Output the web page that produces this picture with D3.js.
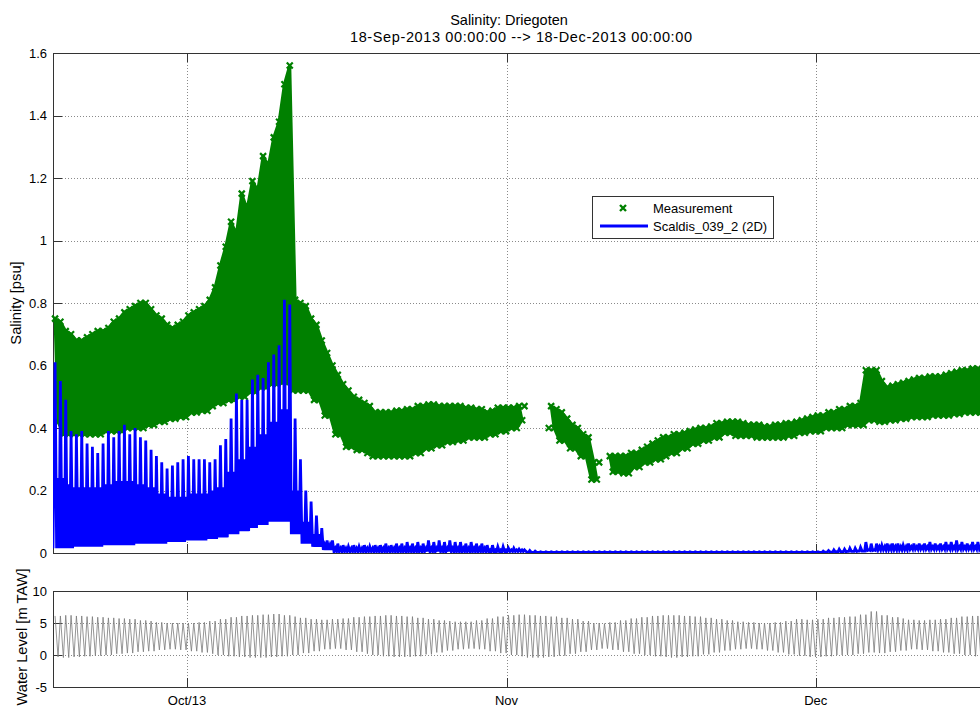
<!DOCTYPE html>
<html>
<head>
<meta charset="utf-8">
<script src="https://cdnjs.cloudflare.com/ajax/libs/d3/7.8.5/d3.min.js"></script>
<style>
body { margin: 0; background: #fff; overflow: hidden; }
text { font-family: "Liberation Sans", Arial, sans-serif; fill: #000; }
</style>
</head>
<body>
<script>
var width = 980, height = 711;

var startDate = new Date(Date.UTC(2013, 8, 18));
var endDate = new Date(Date.UTC(2013, 11, 18));

var monthTicks = [new Date(Date.UTC(2013, 9, 1)), new Date(Date.UTC(2013, 10, 1)), new Date(Date.UTC(2013, 11, 1))];
var monthLabels = ["Oct/13", "Nov", "Dec"];
var salinityTicks = [0, 0.2, 0.4, 0.6, 0.8, 1, 1.2, 1.4, 1.6];
var levelTicks = [-5, 0, 5, 10];

// measured salinity, top of the band at each high water (null = no data)
var measHigh = [0.75,0.74,0.71,0.70,0.68,0.68,0.69,0.70,0.71,0.71,
  0.72,0.74,0.75,0.77,0.78,0.79,0.80,0.80,0.78,0.76,
  0.75,0.73,0.72,0.73,0.74,0.76,0.77,0.78,0.79,0.81,
  0.85,0.92,0.98,1.06,1.02,1.15,1.10,1.19,1.16,1.27,
  1.24,1.33,1.38,1.50,1.56,0.81,0.80,0.79,0.75,0.73,
  0.68,0.64,0.60,0.57,0.54,0.52,0.50,0.49,0.48,0.47,
  0.45,0.45,0.45,0.45,0.455,0.455,0.46,0.46,0.47,0.47,
  0.475,0.475,0.47,0.47,0.47,0.47,0.47,0.465,0.465,0.46,
  0.46,0.45,0.455,0.465,0.465,0.465,0.465,0.47,0.47,null,
  null,null,null,0.47,0.46,0.45,0.43,0.41,0.40,0.38,
  0.37,0.29,0.29,null,0.31,0.31,0.31,0.31,0.32,0.32,
  0.33,0.34,0.35,0.36,0.37,0.37,0.38,0.38,0.385,0.39,
  0.395,0.40,0.40,0.405,0.415,0.415,0.42,0.42,0.42,0.415,
  0.41,0.41,0.41,0.405,0.405,0.41,0.41,0.415,0.415,0.42,
  0.425,0.43,0.435,0.44,0.44,0.45,0.45,0.46,0.46,0.47,
  0.47,0.48,0.585,0.585,0.585,0.55,0.53,0.535,0.54,0.545,
  0.55,0.555,0.56,0.56,0.565,0.565,0.565,0.57,0.575,0.58,
  0.585,0.585,0.59,0.59,0.59,0.59];
// measured salinity, bottom of the band, one value per day from 18-Sep
var measLower = [0.42,0.38,0.38,0.38,0.38,0.39,0.39,0.40,0.40,0.41,
  0.42,0.43,0.435,0.45,0.455,0.47,0.48,0.49,0.50,0.515,
  0.53,0.54,0.545,0.52,0.52,0.49,0.44,0.38,0.34,0.33,
  0.32,0.31,0.31,0.31,0.31,0.32,0.335,0.345,0.355,0.36,
  0.37,0.37,0.38,0.39,0.40,0.425,null,null,0.40,0.36,
  0.335,0.31,0.235,null,0.26,0.255,0.275,0.29,0.30,0.31,
  0.32,0.335,0.35,0.36,0.37,0.385,0.375,0.375,0.37,0.37,
  0.37,0.375,0.385,0.39,0.39,0.40,0.40,0.41,0.41,0.425,
  0.42,0.425,0.43,0.435,0.435,0.44,0.44,0.445,0.45,0.45,
  0.45];

// model salinity peak per tide
var modelPeak = [0.61,0.55,0.49,0.39,0.38,0.39,0.35,0.34,0.32,0.35,
  0.39,0.37,0.39,0.41,0.38,0.40,0.37,0.36,0.33,0.31,
  0.29,0.27,0.28,0.29,0.30,0.31,0.30,0.30,0.30,0.29,
  0.30,0.345,0.365,0.43,0.51,0.49,0.49,0.555,0.57,0.56,
  0.61,0.635,0.665,0.81,0.795,0.43,0.30,0.20,0.165,0.12,
  0.08,0.04,0.04,0.03,0.025,0.02,0.025,0.02,0.025,0.02,
  0.025,0.025,0.03,0.025,0.03,0.03,0.035,0.03,0.035,0.03,
  0.04,0.035,0.04,0.035,0.04,0.035,0.035,0.03,0.035,0.03,
  0.03,0.025,0.025,0.02,0.02,0.015,0.015,0.012,0.01,0.008,
  0.006,0.004,0.004,0.004,0.004,0.004,0.004,0.004,0.004,0.004,
  0.004,0.004,0.004,0.004,0.004,0.004,0.004,0.004,0.004,0.004,
  0.004,0.004,0.004,0.004,0.004,0.004,0.004,0.004,0.004,0.004,
  0.004,0.004,0.004,0.004,0.004,0.004,0.004,0.004,0.004,0.004,
  0.004,0.004,0.004,0.004,0.004,0.004,0.004,0.004,0.004,0.004,
  0.004,0.004,0.004,0.004,0.006,0.008,0.01,0.012,0.012,0.015,
  0.015,0.018,0.035,0.03,0.03,0.025,0.03,0.03,0.03,0.025,
  0.03,0.03,0.03,0.03,0.035,0.03,0.03,0.035,0.035,0.04,
  0.035,0.03,0.035,0.035,0.03,0.035];
// model salinity trough, one value per day
var modelTrough = [0.015,0.015,0.02,0.02,0.02,0.025,0.025,0.025,0.03,0.03,
  0.03,0.035,0.035,0.04,0.04,0.045,0.05,0.06,0.07,0.08,
  0.09,0.10,0.10,0.06,0.03,0.02,0.01,0.005,0.005,0.005,
  0.005,0.005,0.005,0.005,0.005,0.005,0.005,0.005,0.005,0.005,
  0.005,0.005,0.005,0.005,0.005,0.005,0.002,0.002,0.002,0.002,
  0.002,0.002,0.002,0.002,0.002,0.002,0.002,0.002,0.002,0.002,
  0.002,0.002,0.002,0.002,0.002,0.002,0.002,0.002,0.002,0.002,
  0.002,0.002,0.002,0.002,0.002,0.003,0.004,0.005,0.006,0.008,
  0.01,0.01,0.01,0.012,0.012,0.012,0.012,0.012,0.012,0.012,
  0.012];
// model salinity secondary bump within each tide, one value per day
var modelRebound = [0.24,0.22,0.21,0.21,0.21,0.22,0.23,0.23,0.22,0.21,
  0.19,0.18,0.18,0.19,0.19,0.2,0.21,0.26,0.3,0.34,
  0.38,0.42,0.46,0.2,0.1,0.06,0.025,0.015,0.015,0.015,
  0.015,0.015,0.015,0.015,0.015,0.015,0.015,0.015,0.015,0.015,
  0.015,0.015,0.01,0.01,0.01,0.01,0.002,0.002,0.002,0.002,
  0.002,0.002,0.002,0.002,0.002,0.002,0.002,0.002,0.002,0.002,
  0.002,0.002,0.002,0.002,0.002,0.002,0.002,0.002,0.002,0.002,
  0.002,0.002,0.002,0.002,0.002,0.003,0.004,0.005,0.006,0.01,
  0.02,0.02,0.02,0.02,0.02,0.02,0.02,0.02,0.02,0.02,
  0.02];

// water level high / low water, one value per day
var levelHigh = [6.1,6.2,6.1,6.0,5.9,5.8,5.7,5.6,5.4,5.3,
  5.1,5.0,5.0,5.0,5.1,5.3,5.6,5.9,6.1,6.2,
  6.3,6.4,6.2,6.0,5.8,5.6,5.5,5.6,5.7,5.9,
  6.0,6.1,6.2,6.1,6.0,5.8,5.6,5.4,5.3,5.2,
  5.2,5.4,5.7,6.0,6.2,6.3,6.2,6.1,6.0,5.8,
  5.6,5.3,5.0,4.9,5.1,5.4,5.7,5.9,6.1,6.2,
  6.2,6.1,6.0,5.8,5.6,5.4,5.2,5.1,5.0,5.0,
  5.1,5.3,5.6,5.5,5.6,5.8,5.9,6.0,6.3,6.8,
  6.2,5.9,5.7,5.5,5.4,5.5,5.6,5.8,6.0,6.1,
  6.1];
var levelLow = [-0.3,-0.4,-0.3,-0.2,-0.1,0.0,0.2,0.3,0.5,0.6,
  0.8,0.9,0.8,0.6,0.4,0.2,0.0,-0.2,-0.3,-0.4,
  -0.4,-0.3,-0.2,0.0,0.3,0.6,0.9,1.0,0.8,0.5,
  0.2,0.0,-0.2,-0.3,-0.3,-0.2,0.1,0.4,0.7,0.9,
  1.0,0.9,0.6,0.3,0.0,-0.2,-0.4,-0.4,-0.3,-0.1,
  0.2,0.5,0.8,1.0,0.8,0.5,0.2,0.0,-0.2,-0.3,
  -0.4,-0.3,-0.2,0.1,0.4,0.7,0.9,1.0,0.9,0.7,
  0.4,0.1,-0.1,-0.3,-0.3,-0.2,0.0,0.0,0.2,0.4,
  0.3,0.5,0.7,0.9,0.8,0.6,0.4,0.2,0.0,-0.2,
  -0.3];

var tidePeriod = 0.5175;  // days
var firstHW = 0.2;        // days after start
var ebbTime = 0.29;       // HW -> LW, days

var main = {left: 53, right: 991, top: 53, bottom: 553};
var low = {top: 591, bottom: 687};
var tickLen = 9;

var svg = d3.select("body").append("svg")
    .attr("width", width)
    .attr("height", height);

function dayDate(d) { return new Date(startDate.getTime() + d * 864e5); }

var x = d3.scaleUtc().domain([startDate, endDate]).range([main.left, main.right]);
var yS = d3.scaleLinear().domain([0, 1.6]).range([main.bottom, main.top]);
var yW = d3.scaleLinear().domain([-5, 10]).range([low.bottom, low.top]);

var tides = d3.range(modelPeak.length).map(function(i) { return firstHW + i * tidePeriod; });

svg.append("defs").selectAll("clipPath")
    .data([["clipMain", main.top, main.bottom], ["clipLow", low.top, low.bottom]])
  .enter().append("clipPath").attr("id", function(d) { return d[0]; })
  .append("rect")
    .attr("x", main.left).attr("y", function(d) { return d[1]; })
    .attr("width", main.right - main.left).attr("height", function(d) { return d[2] - d[1]; });

function px(v) { return Math.round(v) + 0.5; }

function drawFrame(top, bottom, y, ticks, fmt) {
  var g = svg.append("g");
  // grid
  g.selectAll(".gy").data(ticks.filter(function(t) { return y(t) > top + 1 && y(t) < bottom - 1; }))
    .enter().append("line")
      .attr("x1", main.left).attr("x2", main.right)
      .attr("y1", function(d) { return px(y(d)); }).attr("y2", function(d) { return px(y(d)); })
      .attr("stroke", "#8a8a8a").attr("stroke-dasharray", "1,2");
  g.selectAll(".gx").data(monthTicks).enter().append("line")
      .attr("x1", function(d) { return px(x(d)); }).attr("x2", function(d) { return px(x(d)); })
      .attr("y1", top).attr("y2", bottom)
      .attr("stroke", "#8a8a8a").attr("stroke-dasharray", "1,2");
  // box
  g.append("rect")
      .attr("x", px(main.left)).attr("y", px(top))
      .attr("width", main.right - main.left).attr("height", bottom - top)
      .attr("fill", "none").attr("stroke", "#333");
  // ticks
  g.selectAll(".ty").data(ticks).enter().append("line")
      .attr("x1", main.left).attr("x2", main.left + tickLen)
      .attr("y1", function(d) { return px(y(d)); }).attr("y2", function(d) { return px(y(d)); })
      .attr("stroke", "#333");
  g.selectAll(".tb").data(monthTicks).enter().append("line")
      .attr("x1", function(d) { return px(x(d)); }).attr("x2", function(d) { return px(x(d)); })
      .attr("y1", bottom).attr("y2", bottom - tickLen)
      .attr("stroke", "#333");
  g.selectAll(".tt").data(monthTicks).enter().append("line")
      .attr("x1", function(d) { return px(x(d)); }).attr("x2", function(d) { return px(x(d)); })
      .attr("y1", top).attr("y2", top + tickLen)
      .attr("stroke", "#333");
  g.selectAll(".ly").data(ticks).enter().append("text")
      .attr("x", main.left - 6).attr("y", function(d) { return y(d); })
      .attr("dy", "0.35em").attr("text-anchor", "end")
      .style("font-size", "13px")
      .text(fmt);
}

drawFrame(main.top, main.bottom, yS, salinityTicks, function(d) { return d3.format("~g")(d); });
drawFrame(low.top, low.bottom, yW, levelTicks, function(d) { return d; });

// month labels under the water level panel
svg.selectAll(".mlab").data(monthTicks).enter().append("text")
    .attr("x", function(d) { return x(d); })
    .attr("y", 705)
    .attr("text-anchor", "middle")
    .style("font-size", "13px")
    .text(function(d, i) { return monthLabels[i]; });

// measurement band
var green = "#008000";
var meas = tides.map(function(t, i) {
  var tl = t + ebbTime;
  return {t: t, tl: tl, hi: measHigh[i], lo: tl < 91 ? measLower[Math.floor(tl)] : null};
});

var band = d3.area()
    .defined(function(d) { return d.hi != null && d.lo != null; })
    .x1(function(d) { return x(dayDate(d.t)); })
    .y1(function(d) { return yS(d.hi); })
    .x0(function(d) { return x(dayDate(d.tl)); })
    .y0(function(d) { return yS(d.lo); });

var gm = svg.append("g");
gm.append("path").datum(meas)
    .attr("d", band)
    .attr("fill", green)
    .attr("stroke", green)
    .attr("stroke-width", 3)
    .attr("stroke-linejoin", "round");

var marks = [];
meas.forEach(function(d) {
  if (d.hi != null) marks.push([d.t, d.hi]);
  if (d.lo != null) marks.push([d.tl, d.lo]);
});
var xMark = "M-3,-3L3,3M-3,3L3,-3";
gm.selectAll(".mk").data(marks).enter().append("path")
    .attr("transform", function(d) { return "translate(" + x(dayDate(d[0])) + "," + yS(d[1]) + ")"; })
    .attr("d", xMark)
    .attr("stroke", green)
    .attr("stroke-width", 2.2)
    .attr("fill", "none");

// model line: peak, trough, secondary bump, trough for every tide
var model = [[0, modelTrough[0]]];
tides.forEach(function(t, i) {
  model.push([t, modelPeak[i]]);
  [[0.15, modelTrough], [0.28, modelRebound], [0.40, modelTrough]].forEach(function(s) {
    var tt = t + s[0];
    if (tt < 91) model.push([tt, s[1][Math.floor(tt)]]);
  });
});

var line = d3.line()
    .x(function(d) { return x(dayDate(d[0])); })
    .y(function(d) { return yS(d[1]); });

svg.append("path").datum(model)
    .attr("clip-path", "url(#clipMain)")
    .attr("d", line)
    .attr("fill", "none")
    .attr("stroke", "#0000ff")
    .attr("stroke-width", 2.8);

// water level
var level = [];
tides.forEach(function(t) {
  level.push([t, levelHigh[Math.floor(t)]]);
  var tl = t + ebbTime;
  if (tl < 91) level.push([tl, levelLow[Math.floor(tl)]]);
});
var wline = d3.line()
    .x(function(d) { return x(dayDate(d[0])); })
    .y(function(d) { return yW(d[1]); });
svg.append("path").datum(level)
    .attr("clip-path", "url(#clipLow)")
    .attr("d", wline)
    .attr("fill", "none")
    .attr("stroke", "#7a7a7a")
    .attr("stroke-width", 0.8);

// legend
var lg = svg.append("g");
lg.append("rect")
    .attr("x", 592.5).attr("y", 196.5).attr("width", 181).attr("height", 42)
    .attr("fill", "#fff").attr("stroke", "#333");
lg.append("path")
    .attr("transform", "translate(623,208)")
    .attr("d", xMark)
    .attr("stroke", green).attr("stroke-width", 2.4).attr("fill", "none");
lg.append("line")
    .attr("x1", 600).attr("x2", 648).attr("y1", 226).attr("y2", 226)
    .attr("stroke", "#0000ff").attr("stroke-width", 3);
lg.selectAll(".lt").data(["Measurement", "Scaldis_039_2 (2D)"]).enter().append("text")
    .attr("x", 653)
    .attr("y", function(d, i) { return 208 + i * 18; })
    .attr("dy", "0.35em")
    .style("font-size", "13px")
    .text(function(d) { return d; });

// titles and labels
svg.append("text")
    .attr("x", 509).attr("y", 25)
    .attr("text-anchor", "middle").style("font-size", "14.5px")
    .text("Salinity: Driegoten");
svg.append("text")
    .attr("x", 521).attr("y", 42)
    .attr("text-anchor", "middle").style("font-size", "14.5px")
    .attr("textLength", 342).attr("lengthAdjust", "spacing")
    .text("18-Sep-2013 00:00:00 --> 18-Dec-2013 00:00:00");

svg.append("text")
    .attr("transform", "translate(21," + ((main.top + main.bottom) / 2) + ") rotate(-90)")
    .attr("text-anchor", "middle").style("font-size", "14.7px")
    .text("Salinity [psu]");
svg.append("text")
    .attr("transform", "translate(27,637) rotate(-90)")
    .attr("text-anchor", "middle").style("font-size", "14.7px")
    .text("Water Level [m TAW]");
</script>
</body>
</html>
